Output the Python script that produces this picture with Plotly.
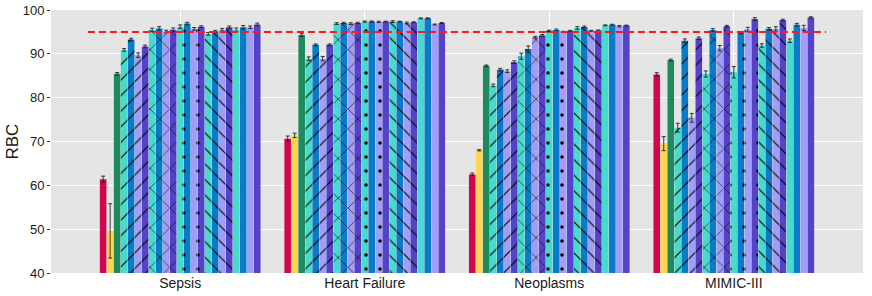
import plotly.graph_objects as go

categories = ["Sepsis", "Heart Failure", "Neoplasms", "MIMIC-III"]

# 23 bars per category (baselines + 5 pattern groups x 4 colours)
sepsis = [61.4, 49.6, 85.45, 90.9, 93.25, 89.7, 91.7, 95.45, 95.8, 95.1, 95.5,
          96.2, 96.9, 95.7, 96.2, 94.55, 95.15, 95.5, 96.05, 95.5, 96.05, 96.05, 96.7]
heart_failure = [70.65, 71.4, 94.3, 88.9, 92.05, 88.9, 92.05, 96.9, 97.05, 96.9, 97.05,
                 97.35, 97.35, 97.3, 97.35, 97.35, 97.35, 97.05, 97.2, 98.1, 98.1, 96.7, 97.05]
neoplasms = [62.5, 68.0, 87.3, 82.8, 86.4, 86.05, 88.1, 89.45, 91.1, 93.8, 94.2,
             95.25, 95.45, 95.05, 95.25, 95.9, 96.15, 95.25, 95.3, 96.5, 96.65, 96.3, 96.45]
mimic = [85.3, 69.5, 88.6, 73.15, 93.0, 75.4, 93.55, 85.4, 95.45, 91.3, 96.3,
         85.8, 94.8, 95.55, 97.95, 91.9, 95.7, 95.7, 97.7, 93.0, 96.65, 95.9, 98.3]

sepsis_err = [0.7, 6.2, 0.3, 0.3, 0.3, 0.5, 0.3, 0.4, 0.4, 0.3, 0.4,
              0.4, 0.3, 0.3, 0.2, 0.3, 0.2, 0.3, 0.3, 0.4, 0.4, 0.3, 0.3]
heart_failure_err = [0.6, 0.5, 0.3, 0.4, 0.2, 0.5, 0.2, 0.2, 0.15, 0.2, 0.15,
                     0.15, 0.15, 0.15, 0.1, 0.2, 0.1, 0.2, 0.1, 0.1, 0.1, 0.1, 0.1]
neoplasms_err = [0.3, 0.15, 0.15, 0.3, 0.3, 0.3, 0.3, 0.7, 0.7, 0.2, 0.2,
                 0.15, 0.2, 0.1, 0.1, 0.3, 0.2, 0.1, 0.15, 0.1, 0.1, 0.15, 0.1]
mimic_err = [0.4, 1.6, 0.2, 1.0, 0.4, 1.0, 0.3, 0.7, 0.3, 0.6, 0.2,
             1.3, 0.2, 0.5, 0.3, 0.4, 0.3, 0.5, 0.2, 0.4, 0.3, 0.6, 0.15]

threshold = 95

base_colors = ["#D1064F", "#FFD54F", "#1C8A5C"]
cycle_colors = ["#4AD9CE", "#0A7BC9", "#A19EF8", "#5542C9"]
patterns = ["/", "x", ".", "\\", ""]
pattern_size = {"/": 11, "x": 14, ".": 14, "\\": 11, "": 8}
pattern_solidity = {"/": 0.1, "x": 0.08, ".": 0.05, "\\": 0.1, "": 0.1}

colors = base_colors + cycle_colors * len(patterns)
shapes = [""] * 3 + [p for p in patterns for _ in cycle_colors]

fig = go.Figure()
values = [sepsis, heart_failure, neoplasms, mimic]
errors = [sepsis_err, heart_failure_err, neoplasms_err, mimic_err]
for i in range(len(colors)):
    shp = shapes[i]
    pat = dict(shape=shp, fgcolor="#000000", bgcolor=colors[i], fgopacity=1,
               size=pattern_size[shp], solidity=pattern_solidity[shp])
    fig.add_trace(go.Bar(
        x=categories,
        y=[v[i] for v in values],
        error_y=dict(type="data", array=[e[i] for e in errors], color="#222222",
                     thickness=0.9, width=2),
        marker=dict(color=colors[i], line=dict(width=0), pattern=pat),
        showlegend=False,
    ))

fig.add_shape(type="line", xref="x", yref="y", x0=-0.5, x1=len(categories) - 0.5,
              y0=threshold, y1=threshold,
              line=dict(color="#FF1A1A", width=2, dash="7px,4px"))

L, R, T, B = 51, 9, 10, 23
plot_w = 872 - L - R
fig.add_annotation(text="RBC", xref="paper", yref="paper", x=-(L - 12) / plot_w, y=0.5,
                   xanchor="center", yanchor="middle", textangle=-90, showarrow=False,
                   font=dict(size=17, color="#1A1A1A"))

fig.update_layout(
    width=872, height=296,
    margin=dict(l=L, r=R, t=T, b=B, autoexpand=False),
    barmode="group", bargap=0.127, bargroupgap=0.06,
    plot_bgcolor="#E5E5E5", paper_bgcolor="white",
    font=dict(family="Liberation Sans, Arial, sans-serif", color="#1A1A1A"),
)
fig.update_xaxes(range=[-0.7, len(categories) - 0.3], showgrid=True, gridcolor="white",
                 gridwidth=1.2, ticks="", ticklen=0,
                 tickfont=dict(size=14, color="#1A1A1A"), zeroline=False, automargin=False)
fig.update_yaxes(range=[40, 100], dtick=10, showgrid=True, gridcolor="white", gridwidth=1.2,
                 ticks="outside", ticklen=3, tickcolor="#333333",
                 tickfont=dict(size=13, color="#1A1A1A"), zeroline=False, automargin=False)

fig.write_html("out.html", config={"displayModeBar": False})
with open("out.html", "r", encoding="utf-8") as f:
    html = f.read()
html = html.replace("<head>", "<head><style>html,body{margin:0;padding:0;overflow:hidden;}</style>", 1)
with open("out.html", "w", encoding="utf-8") as f:
    f.write(html)
